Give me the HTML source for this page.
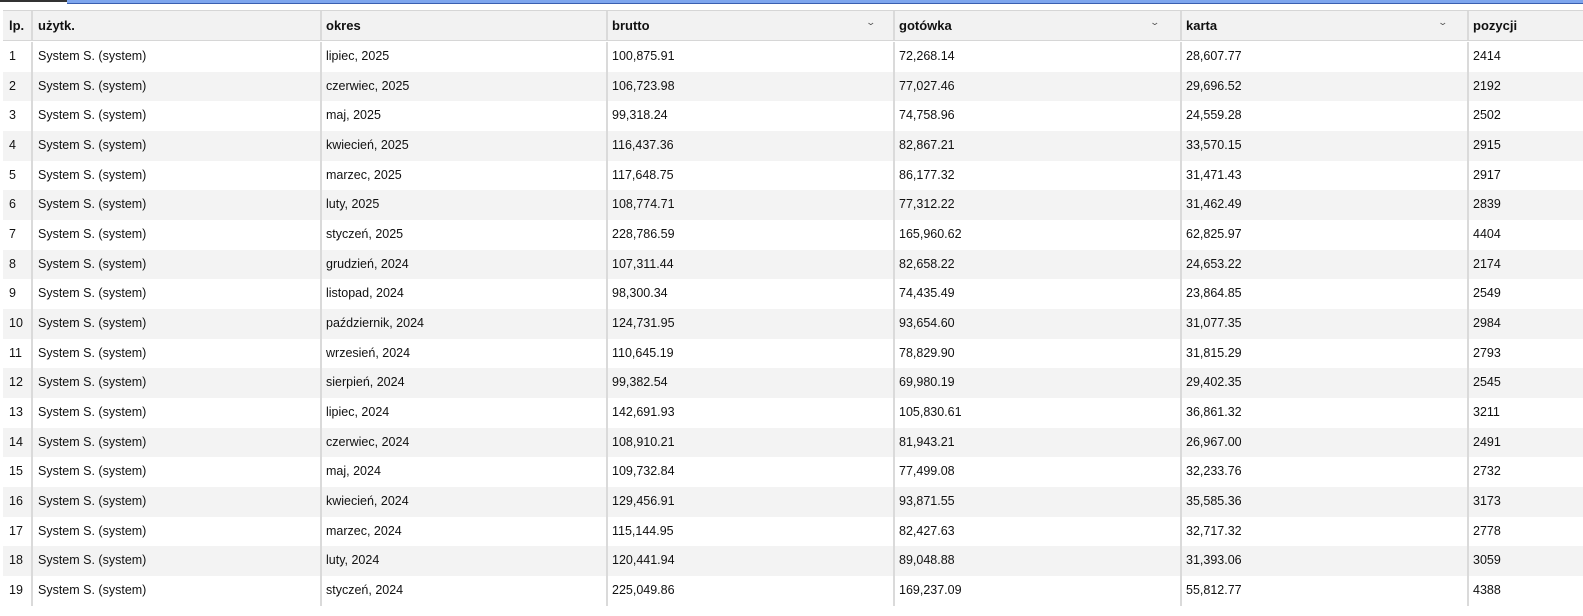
<!DOCTYPE html>
<html><head><meta charset="utf-8"><style>
*{margin:0;padding:0;box-sizing:border-box}
body{width:1583px;height:616px;background:#fff;position:relative;overflow:hidden;font-family:"Liberation Sans","DejaVu Sans",sans-serif;font-size:12.5px;color:#111}
.topl{position:absolute;left:0;top:0;width:67px;height:2px;background:#333}
.topb{position:absolute;left:67px;top:0;right:0;height:4px;background:#7ea6ee;border-bottom:1px solid #3a5fb0}
.hdr{position:absolute;left:3px;right:0;top:10px;height:31px;background:#f2f2f2;border-top:1px solid #d6d6d6;border-bottom:1px solid #d6d6d6;font-weight:bold;font-size:13px}
.row{position:absolute;left:3px;right:0;height:29.67px}
.row.g{background:#f3f3f3}
.c{position:absolute;top:0;height:100%;line-height:29.67px;white-space:nowrap}
.hdr .c{line-height:29px}
.d{position:absolute;top:0;height:100%;width:2px;background:#dadada}
.chev{position:absolute;top:6px;font-size:9px;color:#555;font-weight:normal;transform:scaleX(1.4)}
</style></head><body>
<div class="topl"></div><div class="topb"></div>
<div class="hdr">
<div class="c" style="left:6px">lp.</div>
<div class="d" style="left:28px"></div><div class="c" style="left:35px">użytk.</div>
<div class="d" style="left:317px"></div><div class="c" style="left:323px">okres</div>
<div class="d" style="left:603px"></div><div class="c" style="left:609px">brutto</div><div class="chev" style="left:864px">&#8964;</div>
<div class="d" style="left:890px"></div><div class="c" style="left:896px">gotówka</div><div class="chev" style="left:1148px">&#8964;</div>
<div class="d" style="left:1177px"></div><div class="c" style="left:1183px">karta</div><div class="chev" style="left:1436px">&#8964;</div>
<div class="d" style="left:1464px"></div><div class="c" style="left:1470px">pozycji</div>
</div>
<div id="rows"></div>
<script>
var d=[["lipiec, 2025","100,875.91","72,268.14","28,607.77","2414"],["czerwiec, 2025","106,723.98","77,027.46","29,696.52","2192"],["maj, 2025","99,318.24","74,758.96","24,559.28","2502"],["kwiecień, 2025","116,437.36","82,867.21","33,570.15","2915"],["marzec, 2025","117,648.75","86,177.32","31,471.43","2917"],["luty, 2025","108,774.71","77,312.22","31,462.49","2839"],["styczeń, 2025","228,786.59","165,960.62","62,825.97","4404"],["grudzień, 2024","107,311.44","82,658.22","24,653.22","2174"],["listopad, 2024","98,300.34","74,435.49","23,864.85","2549"],["październik, 2024","124,731.95","93,654.60","31,077.35","2984"],["wrzesień, 2024","110,645.19","78,829.90","31,815.29","2793"],["sierpień, 2024","99,382.54","69,980.19","29,402.35","2545"],["lipiec, 2024","142,691.93","105,830.61","36,861.32","3211"],["czerwiec, 2024","108,910.21","81,943.21","26,967.00","2491"],["maj, 2024","109,732.84","77,499.08","32,233.76","2732"],["kwiecień, 2024","129,456.91","93,871.55","35,585.36","3173"],["marzec, 2024","115,144.95","82,427.63","32,717.32","2778"],["luty, 2024","120,441.94","89,048.88","31,393.06","3059"],["styczeń, 2024","225,049.86","169,237.09","55,812.77","4388"]];
var h="";
d.forEach(function(r,i){
var t=42+i*29.67;
h+='<div class="row'+(i%2?' g':'')+'" style="top:'+t+'px">'+
'<div class="c" style="left:6px">'+(i+1)+'</div>'+
'<div class="d" style="left:28px"></div><div class="c" style="left:35px">System S. (system)</div>'+
'<div class="d" style="left:317px"></div><div class="c" style="left:323px">'+r[0]+'</div>'+
'<div class="d" style="left:603px"></div><div class="c" style="left:609px">'+r[1]+'</div>'+
'<div class="d" style="left:890px"></div><div class="c" style="left:896px">'+r[2]+'</div>'+
'<div class="d" style="left:1177px"></div><div class="c" style="left:1183px">'+r[3]+'</div>'+
'<div class="d" style="left:1464px"></div><div class="c" style="left:1470px">'+r[4]+'</div></div>';
});
document.getElementById("rows").innerHTML=h;
</script>
</body></html>
